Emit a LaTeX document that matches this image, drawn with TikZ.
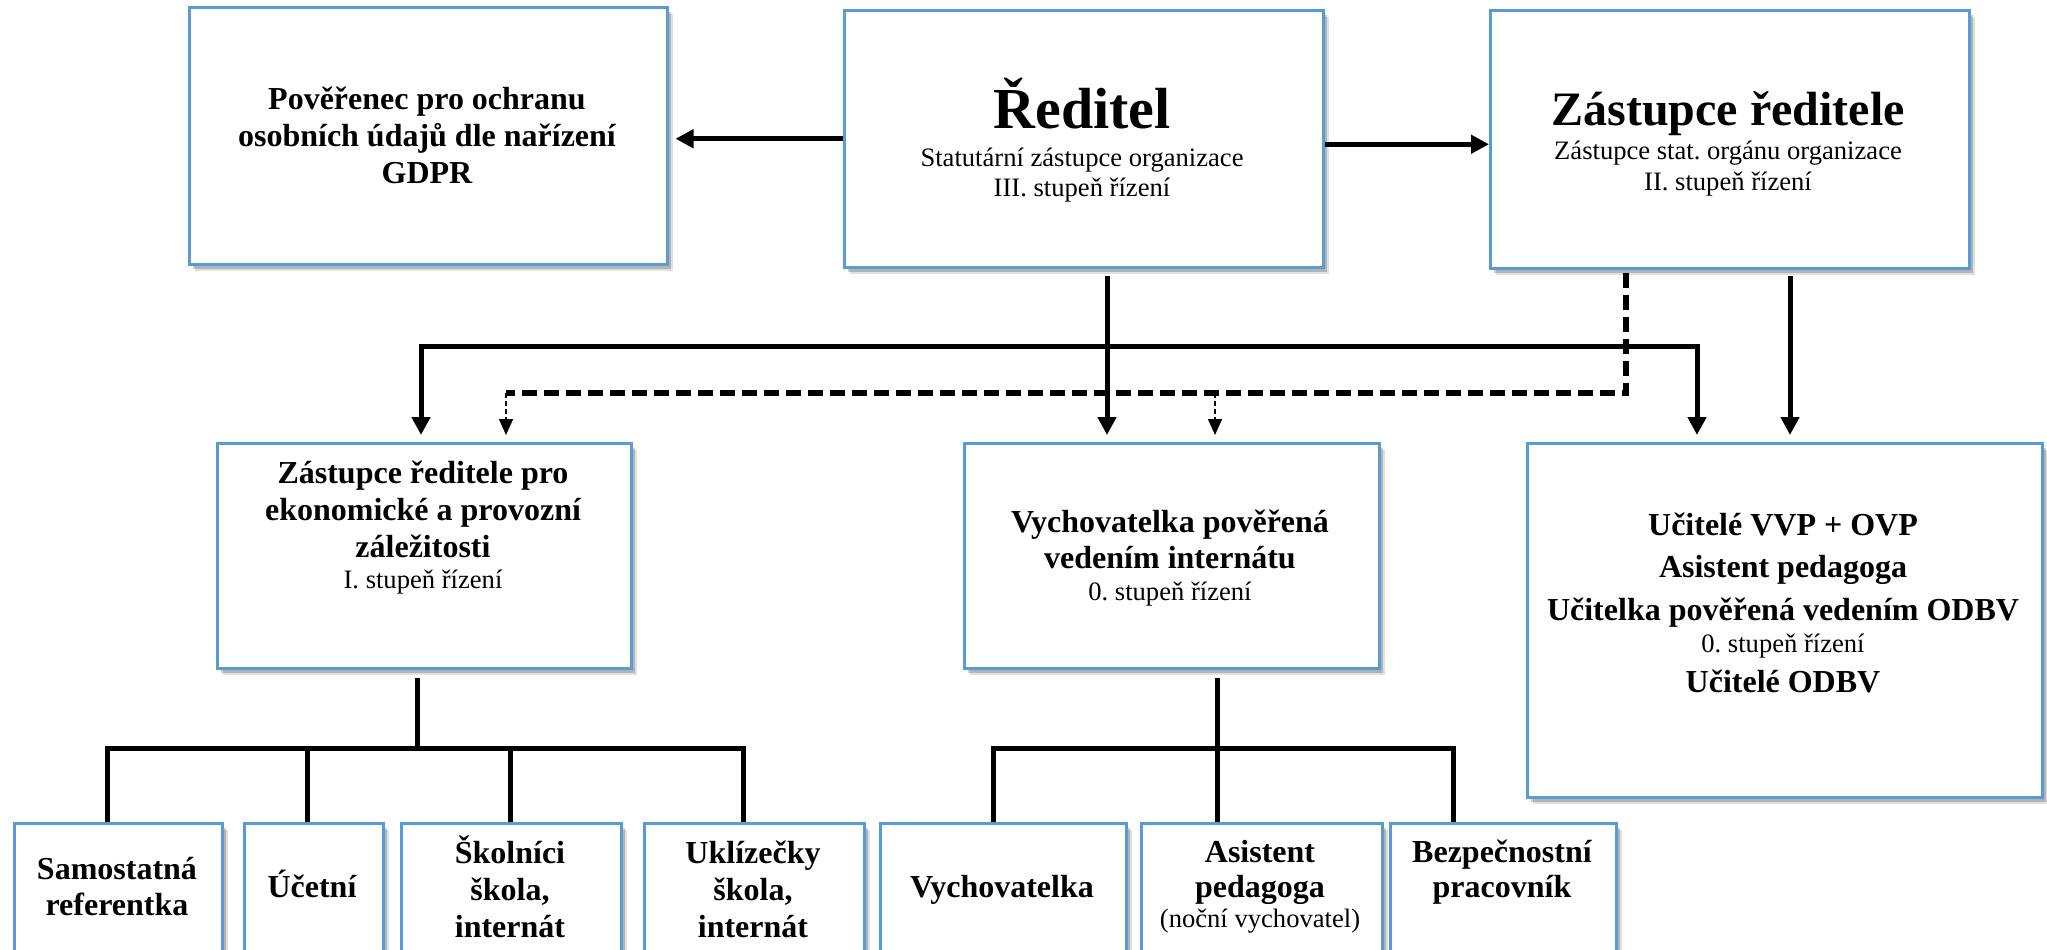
\documentclass[tikz,border=0pt]{standalone}
\usepackage{fontspec}
\setmainfont{Liberation Serif}
\usetikzlibrary{arrows.meta,calc,shadows}
\definecolor{boxblue}{RGB}{91,155,213}
\frenchspacing
\tikzset{
  box/.style={draw=boxblue, line width=1.25pt, fill=white, anchor=north west, inner sep=0pt,
    drop shadow={shadow xshift=3pt, shadow yshift=-3.5pt, fill=black, opacity=0.12},
    drop shadow={shadow xshift=1.8pt, shadow yshift=-2.2pt, fill=black, opacity=0.2}},
  bt/.style={font=\fontsize{16}{18.5}\selectfont\bfseries, align=center, inner sep=0pt, anchor=base},
  rt/.style={font=\fontsize{13.3}{15.5}\selectfont, align=center, inner sep=0pt, anchor=base},
  thk/.style={line width=2.5pt, line join=miter},
  sarr/.style={thk, -{Triangle[width=9pt,length=9pt]}},
  darr/.style={thk, {Triangle[width=9pt,length=9pt]}-{Triangle[width=9pt,length=9pt]}},
  thkdash/.style={line width=2.6pt, dash pattern=on 7.5pt off 3.5pt},
  thindash/.style={line width=0.75pt, dash pattern=on 2.5pt off 1.5pt, -{Triangle[width=7pt,length=8pt]}},
}
\begin{document}
\begin{tikzpicture}[x=0.5pt,y=-0.5pt]
\useasboundingbox (0,0) rectangle (2047,949);
\clip (0,0) rectangle (2047,949);
\fill[white] (0,0) rectangle (2047,949);

% top row
\node[box, minimum width=239pt, minimum height=128.5pt] (gdpr) at (188,6) {};
\node[box, minimum width=239.5pt, minimum height=128.5pt] (red) at (843,9) {};
\node[box, minimum width=239.5pt, minimum height=129pt] (zas) at (1489,9) {};
% second row
\node[box, minimum width=207pt, minimum height=112.5pt] (eko) at (216,442) {};
\node[box, minimum width=207.5pt, minimum height=112.5pt] (vych) at (963,442) {};
\node[box, minimum width=257.5pt, minimum height=177pt] (uc) at (1526,442) {};
% bottom row
\node[box, minimum width=104pt, minimum height=100pt] (sam) at (13,822) {};
\node[box, minimum width=69.5pt, minimum height=100pt] (uce) at (243,822) {};
\node[box, minimum width=110pt, minimum height=100pt] (sko) at (400,822) {};
\node[box, minimum width=110pt, minimum height=100pt] (ukl) at (643,822) {};
\node[box, minimum width=123pt, minimum height=100pt] (vy) at (879,822) {};
\node[box, minimum width=120.5pt, minimum height=100pt] (asi) at (1140,822) {};
\node[box, minimum width=113pt, minimum height=100pt] (bez) at (1389,822) {};

% connectors top
\draw[sarr] (red.west) -- ($(gdpr.east |- red.west)+(7,0)$);
\draw[sarr] ($(red.east)+(0,5.5)$) -- ($(zas.west)+(0,5)$);
\draw[sarr] ($(red.south west)+(264,7)$) -- ($(vych.north west)+(144,-7)$);
\draw[darr] ($(eko.north west)+(205,-7)$) |- ($(uc.north west)+(171,-96)$) -- ($(uc.north west)+(171,-7)$);
\draw[sarr] ($(zas.south west)+(301,6)$) -- ($(uc.north west)+(264,-7)$);
\draw[thkdash] ($(zas.south west)+(137,3)$) |- ($(eko.north west)+(290,-49)$);
\draw[thindash] ($(eko.north west)+(290,-49)$) -- ($(eko.north west)+(290,-7)$);
\draw[thindash] ($(vych.north west)+(252,-49)$) -- ($(vych.north west)+(252,-7)$);

% connectors bottom left
\draw[thk] ($(eko.south west)+(201,8)$) -- ($(eko.south west)+(201,81)$);
\draw[thk] ($(sam.north west)+(94,0)$) |- ($(ukl.north west)+(100,-74)$) -- ($(ukl.north west)+(100,0)$);
\draw[thk] ($(uce.north west)+(64,0)$) -- ($(uce.north west)+(64,-74)$);
\draw[thk] ($(sko.north west)+(110,0)$) -- ($(sko.north west)+(110,-74)$);
% connectors bottom middle
\draw[thk] ($(vych.south west)+(254,8)$) -- ($(vych.south west)+(254,81)$);
\draw[thk] ($(vy.north west)+(114,0)$) |- ($(bez.north west)+(64,-74)$) -- ($(bez.north west)+(64,0)$);
\draw[thk] ($(asi.north west)+(77,0)$) -- ($(asi.north west)+(77,-74)$);

% texts (anchored at baseline of the last line)
\node[bt] (gdprT) at (427,183) {Pověřenec pro ochranu\\osobních údajů dle nařízení\\GDPR};
\node[rt] (redT) at (1082,196) {{\fontsize{29}{32}\selectfont\bfseries Ředitel}\\[3.5pt]Statutární zástupce organizace\\[-0.5pt]III. stupeň řízení};
\node[rt] (zasT) at (1728,190) {{\fontsize{24}{28}\selectfont\bfseries Zástupce ředitele}\\[1.5pt]Zástupce stat. orgánu organizace\\II. stupeň řízení};
\node[bt] (ekoT) at (423,588) {Zástupce ředitele pro\\ekonomické a provozní\\záležitosti\\[-3pt]{\mdseries\fontsize{13.3}{15.5}\selectfont I. stupeň řízení}};
\node[bt] (vychT) at (1170,600) {Vychovatelka pověřená\\[-0.5pt]vedením internátu\\[-2.5pt]{\mdseries\fontsize{13.3}{15.5}\selectfont 0. stupeň řízení}};
\node[bt] (ucT) at (1783,692) {Učitelé VVP + OVP\\[2.5pt]Asistent pedagoga\\[3pt]Učitelka pověřená vedením ODBV\\[-2.5pt]{\mdseries\fontsize{13.3}{15.5}\selectfont 0. stupeň řízení}\\[1.5pt]Učitelé ODBV};
\node[bt] (samT) at (117,915) {Samostatná\\[-0.5pt]referentka};
\node[bt] (uceT) at (312,897) {Účetní};
\node[bt] (skoT) at (510,937) {Školníci\\škola,\\internát};
\node[bt] (uklT) at (753,937) {Uklízečky\\škola,\\internát};
\node[bt] (vyT) at (1002,897) {Vychovatelka};
\node[bt] (asiT) at (1260,927) {Asistent\\[-1pt]pedagoga\\[-3.5pt]{\mdseries\fontsize{13.3}{15.5}\selectfont (noční vychovatel)}};
\node[bt] (bezT) at (1502,897) {Bezpečnostní\\[-1pt]pracovník};
\end{tikzpicture}
\end{document}
